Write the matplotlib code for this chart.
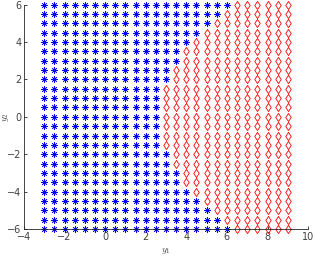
import matplotlib
matplotlib.use('Agg')
import matplotlib.pyplot as plt
import numpy as np

# grid of sample points
x_values = [-3.0, -2.5, -2.0, -1.5, -1.0, -0.5, 0.0, 0.5, 1.0, 1.5, 2.0, 2.5,
            3.0, 3.5, 4.0, 4.5, 5.0, 5.5, 6.0, 6.5, 7.0, 7.5, 8.0, 8.5, 9.0]
y_values = [-6.0, -5.5, -5.0, -4.5, -4.0, -3.5, -3.0, -2.5, -2.0, -1.5, -1.0, -0.5,
            0.0, 0.5, 1.0, 1.5, 2.0, 2.5, 3.0, 3.5, 4.0, 4.5, 5.0, 5.5, 6.0]
# last x of class 1 (blue) in each row
blue_limit = [6.0, 5.5, 5.0, 4.5, 4.0, 3.5, 3.5, 3.0, 3.0, 2.5, 2.5, 2.5,
              2.5, 2.5, 2.5, 2.5, 3.0, 3.0, 3.5, 3.5, 4.0, 4.5, 5.0, 5.5, 6.0]

bx, by, rx, ry = [], [], [], []
for y, lim in zip(y_values, blue_limit):
    for x in x_values:
        if x <= lim:
            bx.append(x)
            by.append(y)
        else:
            rx.append(x)
            ry.append(y)

# diamond a bit narrower than it is tall, like the matlab one in the picture
diamond = [(0, 1), (0.68, 0), (0, -1), (-0.68, 0), (0, 1)]

plt.rcParams['mathtext.fontset'] = 'cm'
fig = plt.figure(figsize=(3.16, 2.59), dpi=100)
ax = fig.add_axes([0.076, 0.116, 0.899, 0.866])

ax.plot(bx, by, linestyle='none', marker=(8, 2, 0), markersize=4.6,
        markeredgewidth=0.5, color='blue', clip_on=False)
ax.plot(rx, ry, linestyle='none', marker=diamond, markersize=5.8,
        markeredgewidth=0.6, markerfacecolor='none', markeredgecolor='red', clip_on=False)

ax.set_xlim(-4, 10)
ax.set_ylim(-6, 6)
ax.set_xticks([-4, -2, 0, 2, 4, 6, 8, 10])
ax.set_yticks([-6, -4, -2, 0, 2, 4, 6])
for s in ['top', 'right']:
    ax.spines[s].set_visible(False)
for s in ['left', 'bottom']:
    ax.spines[s].set_color('#262626')
    ax.spines[s].set_linewidth(0.6)
ax.tick_params(direction='in', length=2.5, width=0.6, labelsize=7,
               colors='#262626', pad=2)
for lab in ax.get_xticklabels() + ax.get_yticklabels():
    lab.set_color('#404040')

ax.set_xlabel('$y_1$', fontsize=7, labelpad=3, color='#404040')
ax.set_ylabel('$y_2$', fontsize=7, color='#404040')
ax.yaxis.set_label_coords(-0.045, 0.5)

fig.savefig('out.png', dpi=100)
